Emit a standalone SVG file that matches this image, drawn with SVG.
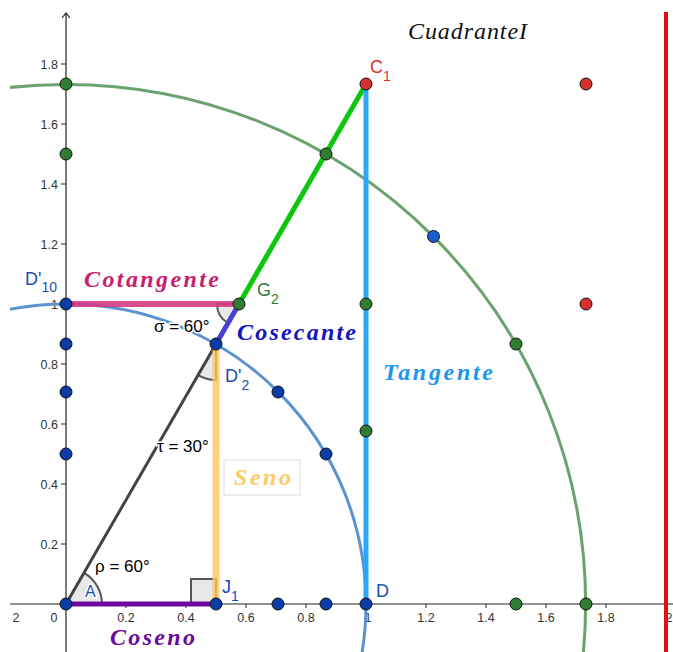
<svg xmlns="http://www.w3.org/2000/svg" width="673" height="652" viewBox="0 0 673 652">
<defs>
<clipPath id="view"><rect x="10" y="0" width="663" height="652"/></clipPath>
<style>
.axis{stroke:#222;stroke-width:1.2;fill:none}
.tick{stroke:#222;stroke-width:1}
.tl{font-family:"Liberation Sans",Arial,sans-serif;font-size:12.5px;fill:#333;stroke:#fff;stroke-width:3;paint-order:stroke;stroke-linejoin:round}
.lbl{font-family:"Liberation Sans",Arial,sans-serif;stroke:#fff;stroke-width:3;paint-order:stroke;stroke-linejoin:round}
.ang{font-family:"Liberation Sans",Arial,sans-serif;font-size:17px;fill:#000;stroke:#fff;stroke-width:3;paint-order:stroke}
.tex{font-family:"Liberation Serif","Times New Roman",serif;font-style:italic;font-weight:bold;font-size:24px}
.pg{fill:#2e7d32;stroke:#111;stroke-width:1}
.pb{fill:#0a3ca8;stroke:#111;stroke-width:1}
.pr{fill:#d63030;stroke:#111;stroke-width:1}
.sector{fill:#e6e6e6;fill-opacity:0.9;stroke:#555;stroke-width:2}
</style>
</defs>

<g id="axes" clip-path="url(#view)">
<line class="axis" x1="10" y1="604" x2="673" y2="604"/>
<line class="axis" x1="66" y1="13" x2="66" y2="652"/>
<polyline class="axis" points="62,18 66,13 70,18"/>
<g class="tick">
<line x1="61" y1="544" x2="66" y2="544"/><line x1="61" y1="484" x2="66" y2="484"/><line x1="61" y1="424" x2="66" y2="424"/><line x1="61" y1="364" x2="66" y2="364"/><line x1="61" y1="304" x2="66" y2="304"/><line x1="61" y1="244" x2="66" y2="244"/><line x1="61" y1="184" x2="66" y2="184"/><line x1="61" y1="124" x2="66" y2="124"/><line x1="61" y1="64" x2="66" y2="64"/>
<line x1="126" y1="604" x2="126" y2="608"/><line x1="186" y1="604" x2="186" y2="608"/><line x1="246" y1="604" x2="246" y2="608"/><line x1="306" y1="604" x2="306" y2="608"/><line x1="366" y1="604" x2="366" y2="608"/><line x1="426" y1="604" x2="426" y2="608"/><line x1="486" y1="604" x2="486" y2="608"/><line x1="546" y1="604" x2="546" y2="608"/><line x1="606" y1="604" x2="606" y2="608"/><line x1="666" y1="604" x2="666" y2="608"/>
</g>
<g class="tl" text-anchor="middle">
<text x="16" y="622">2</text><text x="54" y="622">0</text>
<text x="126" y="622">0.2</text><text x="186" y="622">0.4</text><text x="246" y="622">0.6</text><text x="306" y="622">0.8</text><text x="368" y="622">1</text>
<text x="426" y="622">1.2</text><text x="486" y="622">1.4</text><text x="546" y="622">1.6</text><text x="606" y="622">1.8</text><text x="669" y="622">2</text>
</g>
<g class="tl" text-anchor="end">
<text x="58" y="549">0.2</text><text x="58" y="489">0.4</text><text x="58" y="429">0.6</text><text x="58" y="369">0.8</text><text x="58" y="309">1</text>
<text x="58" y="249">1.2</text><text x="58" y="189">1.4</text><text x="58" y="129">1.6</text><text x="58" y="69">1.8</text>
</g>
</g>

<g id="circles" clip-path="url(#view)" fill="none">
<circle cx="66" cy="604" r="519.6" stroke="#6aa36e" stroke-width="3"/>
<circle cx="66" cy="604" r="300" stroke="#5b93d1" stroke-width="3"/>
</g>

<g id="redline"><line x1="666" y1="12" x2="666" y2="652" stroke="#e01010" stroke-width="4"/></g>

<g id="angles">
<path class="sector" d="M66,604 L102,604 A36,36 0 0 0 84,572.8 Z"/>
<path class="sector" d="M216,344 L216,380 A36,36 0 0 1 198,375.2 Z"/>
<path class="sector" d="M239,304 L228,323 A22,22 0 0 1 217,304 Z"/>
<rect class="sector" x="191" y="579" width="25" height="25"/>
</g>

<g id="connectors" stroke-linecap="butt">
<line x1="66" y1="604" x2="216" y2="344" stroke="#444" stroke-width="3"/>
<line x1="216" y1="604" x2="216" y2="344" stroke="#ffc55c" stroke-opacity="0.8" stroke-width="7"/>
<line x1="66" y1="604" x2="216" y2="604" stroke="#6f0aa0" stroke-width="5"/>
<line x1="66" y1="304" x2="239" y2="304" stroke="#d63a84" stroke-opacity="0.9" stroke-width="6"/>
<line x1="216" y1="344" x2="239" y2="304" stroke="#4a3fd0" stroke-width="5"/>
<line x1="239" y1="304" x2="366" y2="84" stroke="#0cc70c" stroke-width="5"/>
<line x1="366" y1="604" x2="366" y2="84" stroke="#2aa7ff" stroke-width="5"/>
</g>

<g id="seno-box"><rect x="224" y="460" width="76" height="35" fill="#fff" stroke="#ddd" stroke-width="1"/></g>

<g id="labels">
<text class="tex" x="84" y="287" fill="#c81e6e" textLength="135" lengthAdjust="spacing">Cotangente</text>
<text class="tex" x="237" y="340" fill="#1414c0" textLength="119" lengthAdjust="spacing">Cosecante</text>
<text class="tex" x="383" y="380" fill="#1e96ee" textLength="110" lengthAdjust="spacing">Tangente</text>
<text class="tex" x="234" y="485" fill="#ffc966" textLength="57" lengthAdjust="spacing">Seno</text>
<text class="tex" x="110" y="645" fill="#6a0a9a" font-size="19" textLength="85" lengthAdjust="spacing">Coseno</text>
<text x="408" y="39" font-family="'Liberation Serif','Times New Roman',serif" font-style="italic" font-size="24" fill="#111" textLength="119" lengthAdjust="spacing">CuadranteI</text>
<text class="ang" x="95" y="572">ρ = 60°</text>
<text class="ang" x="154" y="332">σ = 60°</text>
<text class="ang" x="157" y="452">τ = 30°</text>
</g>

<g id="points">
<g id="A"><circle class="pb" cx="66" cy="604" r="6"/><text class="lbl" x="85" y="597" font-size="16" fill="#1a4fb0">A</text></g>
<g id="J1"><circle class="pb" cx="216" cy="604" r="6"/><text class="lbl" x="222" y="593" font-size="18" fill="#1a3fd0">J<tspan font-size="14" dy="8">1</tspan></text></g>
<g id="D"><circle class="pb" cx="366" cy="604" r="6"/><text class="lbl" x="376" y="597" font-size="18" fill="#1a4fb0">D</text></g>
<g id="D2"><circle class="pb" cx="216" cy="344" r="6"/><text class="lbl" x="225" y="382" font-size="18" fill="#1a4fb0">D'<tspan font-size="14" dy="8">2</tspan></text></g>
<g id="D10"><circle class="pb" cx="66" cy="304" r="6"/><text class="lbl" x="25" y="285" font-size="18" fill="#1a4fb0">D'<tspan font-size="14" dy="7">10</tspan></text></g>
<g id="G2"><circle class="pg" cx="239" cy="304" r="6"/><text class="lbl" x="257" y="296" font-size="18" fill="#2e7d32">G<tspan font-size="14" dy="8">2</tspan></text></g>
<g id="C1"><circle class="pr" cx="366" cy="84" r="6"/><text class="lbl" x="370" y="73" font-size="18" fill="#e03030">C<tspan font-size="14" dy="8">1</tspan></text></g>
<g id="others">
<circle class="pb" cx="278" cy="604" r="6"/><circle class="pb" cx="326" cy="604" r="6"/>
<circle class="pb" cx="66" cy="454" r="6"/><circle class="pb" cx="66" cy="392" r="6"/><circle class="pb" cx="66" cy="344" r="6"/>
<circle class="pb" cx="278" cy="392" r="6"/><circle class="pb" cx="326" cy="454" r="6"/>
<circle cx="433.5" cy="236.5" r="6" fill="#1a5fd0" stroke="#111" stroke-width="1"/>
<circle class="pg" cx="516" cy="604" r="6"/><circle class="pg" cx="586" cy="604" r="6"/>
<circle class="pg" cx="66" cy="84" r="6"/><circle class="pg" cx="66" cy="154" r="6"/>
<circle class="pg" cx="516" cy="344" r="6"/><circle class="pg" cx="326" cy="154" r="6"/>
<circle class="pg" cx="366" cy="304" r="6"/><circle class="pg" cx="366" cy="431" r="6"/>
<circle class="pr" cx="586" cy="84" r="6"/><circle class="pr" cx="586" cy="304" r="6"/>
</g>
</g>
</svg>
